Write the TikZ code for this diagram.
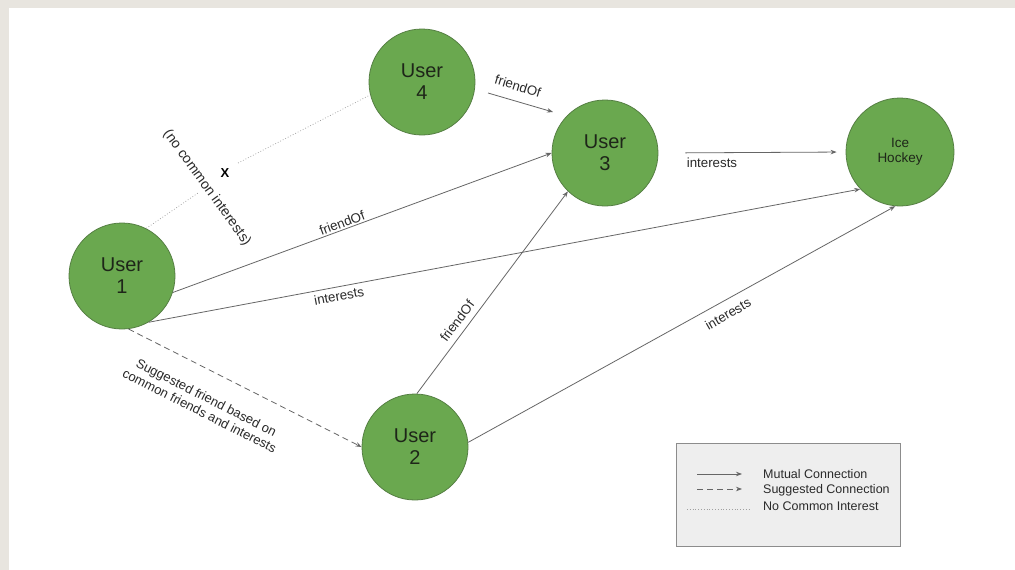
\documentclass[tikz,border=0pt]{standalone}
\usepackage{fontspec}
\setmainfont{Liberation Sans}
\usetikzlibrary{arrows.meta}

\definecolor{frame}{HTML}{E8E5DF}
\definecolor{nodegreen}{HTML}{6AA84F}
\definecolor{nodeedge}{HTML}{557F43}
\definecolor{nodetext}{HTML}{1E2619}
\definecolor{linkgray}{HTML}{666666}
\definecolor{dotgray}{HTML}{A0A0A0}
\definecolor{labeltext}{HTML}{2A2A2A}
\definecolor{legendfill}{HTML}{EEEEEE}
\definecolor{legendedge}{HTML}{8C8C8C}

\tikzset{
  user/.style={circle, fill=nodegreen, draw=nodeedge, line width=0.8pt,
    minimum size=106pt, inner sep=0pt, align=center,
    font=\fontsize{20}{22}\selectfont, text=nodetext},
  link/.style={draw=linkgray, line width=0.8pt,
    -{Stealth[length=6pt,width=4.5pt]}},
  suggest/.style={link, dash pattern=on 6pt off 4pt},
  nocommon/.style={draw=dotgray, line width=0.7pt, dash pattern=on 0.8pt off 2pt},
  lbl/.style={font=\fontsize{13.3}{15}\selectfont, text=labeltext, inner sep=0pt},
  legtext/.style={font=\fontsize{12.5}{14}\selectfont, text=labeltext,
    inner sep=0pt, anchor=west},
}

\begin{document}
\begin{tikzpicture}[x=1pt, y=-1pt]
\useasboundingbox (0,0) rectangle (1015,570);

% page background
\fill[frame] (0,0) rectangle (1015,570);
\fill[white] (9,8) rectangle (1015,570);

% users and interest
\node[user] (u1) at (122,276) {User\\1};
\node[user] (u4) at (422,82) {User\\4};
\node[user] (u3) at (605,153) {User\\3};
\node[user, minimum size=108pt, font=\fontsize{13.5}{15}\selectfont] (ih) at (900,152) {Ice\\Hockey};
\node[user] (u2) at (415,447) {User\\2};

% friendOf between user 4 and user 3
\coordinate (f43a) at (488,93);
\coordinate (f43b) at (553,112);
\draw[link] (f43a) -- (f43b);
\node[lbl, rotate=-17] (l43) at (518,86) {friendOf};

% connections of user 1
\draw[link] (u1.-18) -- (u3.west);
\node[lbl, rotate=20.7] (l13) at (342,223) {friendOf};

\draw[link] (u1.-60) -- (ih.-137);
\node[lbl, rotate=10.7] (l1i) at (339,296) {interests};

\draw[suggest] (u1.-83) -- (u2.west);
\node[lbl, rotate=-27, align=center, font=\fontsize{13}{15}\selectfont] (lsug) at (203,404)
  {Suggested friend based on\\common friends and interests};

% connections of user 2
\draw[link] (u2.88) -- (u3.-134);
\node[lbl, rotate=53] (l23) at (457,321) {friendOf};

\draw[link] (u2.5) -- (ih.-95);
\node[lbl, rotate=30] (l2i) at (728,314) {interests};

% user 3 interest
\draw[link, shorten <=27pt, shorten >=9pt] (u3.east) -- (ih.west);
\node[lbl] (l3i) at (712,163) {interests};

% no common interests between user 1 and user 4
\coordinate (nc1) at (198,193);
\coordinate (nc2) at (238,163);
\draw[nocommon] (u1.63) -- (nc1);
\draw[nocommon] (nc2) -- (u4.194);
\node[font=\bfseries\fontsize{13}{13}\selectfont, text=black, inner sep=0pt] (xm) at (225,173) {X};
\node[lbl, rotate=-54, font=\fontsize{14}{16}\selectfont] (lnc) at (207,188) {(no common interests)};

% legend
\node[draw=legendedge, fill=legendfill, line width=0.8pt, minimum width=224pt,
  minimum height=103pt, anchor=north west, inner sep=0pt] (legend) at (676,443) {};
\coordinate (lm1) at (697,474);
\coordinate (lm2) at (742,474);
\coordinate (ls1) at (697,489);
\coordinate (ls2) at (742,489);
\coordinate (ln1) at (687,509);
\coordinate (ln2) at (749,509);
\draw[link] (lm1) -- (lm2);
\draw[suggest] (ls1) -- (ls2);
\draw[nocommon] (ln1) -- (ln2);
\node[legtext] (tm) at (763,474) {Mutual Connection};
\node[legtext] (ts) at (763,490) {Suggested Connection};
\node[legtext] (tn) at (763,506) {No Common Interest};
\end{tikzpicture}
\end{document}
